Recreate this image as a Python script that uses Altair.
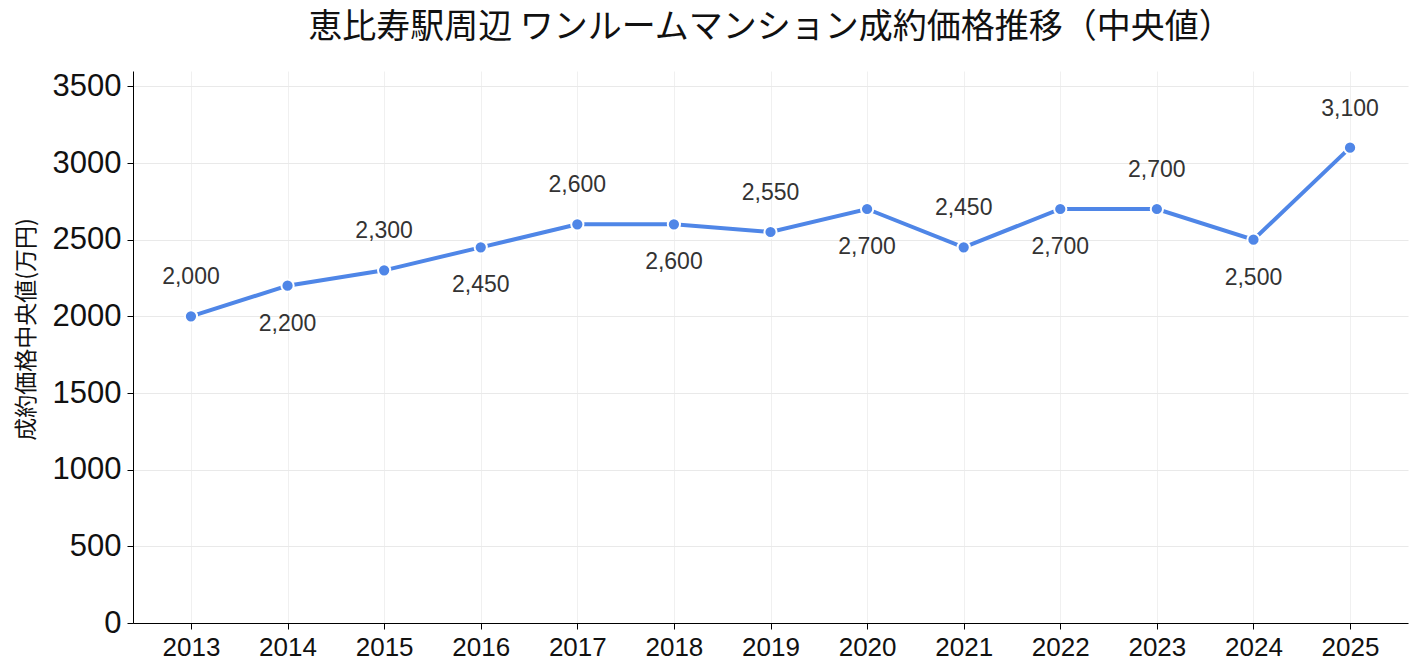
import altair as alt
import pandas as pd

years = ["2013", "2014", "2015", "2016", "2017", "2018", "2019",
         "2020", "2021", "2022", "2023", "2024", "2025"]
prices = [2000, 2200, 2300, 2450, 2600, 2600, 2550, 2700, 2450, 2700, 2700, 2500, 3100]
y_ticks = [0, 500, 1000, 1500, 2000, 2500, 3000, 3500]

df = pd.DataFrame({"year": years, "price": prices})
df["label"] = [f"{v:,}" for v in prices]
df["pos"] = ["above" if i % 2 == 0 else "below" for i in range(len(years))]

JP = "Noto Sans CJK JP"
NUM = "Liberation Sans, Noto Sans CJK JP"
BLUE = "#4f86e7"

x_enc = alt.X("year:O", title=None,
              scale=alt.Scale(type="point", padding=0.6),
              axis=alt.Axis(labelAngle=0, labelFontSize=26, labelColor="#111",
                            labelFont=NUM, labelPadding=5, tickSize=6,
                            tickColor="#000", domainColor="#000", grid=True,
                            gridColor="#f0f0f0"))
y_enc = alt.Y("price:Q", title="成約価格中央値(万円)",
              scale=alt.Scale(domain=[0, 3600], nice=False),
              axis=alt.Axis(values=y_ticks, format="d",
                            labelFontSize=31, labelColor="#111", labelFont=NUM,
                            labelPadding=6, tickSize=6, tickColor="#000",
                            domainColor="#000", gridColor="#e9e9e9",
                            titleFontSize=23, titleFont=JP,
                            titleFontWeight="normal", titleColor="#111",
                            titlePadding=14, titleY=258))

base = alt.Chart(df).encode(x=x_enc, y=y_enc)

line = base.mark_line(color=BLUE, strokeWidth=4)
points = base.mark_point(filled=True, size=150, color=BLUE, stroke="white",
                         strokeWidth=2, opacity=1)

above = base.transform_filter(alt.datum.pos == "above").mark_text(
    dy=-39, fontSize=23, color="#333", font=NUM).encode(text="label:N")
below = base.transform_filter(alt.datum.pos == "below").mark_text(
    dy=38, fontSize=23, color="#333", font=NUM).encode(text="label:N")

chart = alt.layer(line, points, above, below).properties(
    width=1275, height=552,
    title=alt.Title("恵比寿駅周辺 ワンルームマンション成約価格推移（中央値）",
                    fontSize=34, fontWeight="normal", color="#111",
                    font=JP, offset=25),
    autosize=alt.AutoSizeParams(type="none"),
    padding={"left": 133, "top": 71, "right": 10, "bottom": 48},
).configure(font=JP).configure_view(stroke=None)

chart.save("out.html", embed_options={"renderer": "svg", "actions": False})
